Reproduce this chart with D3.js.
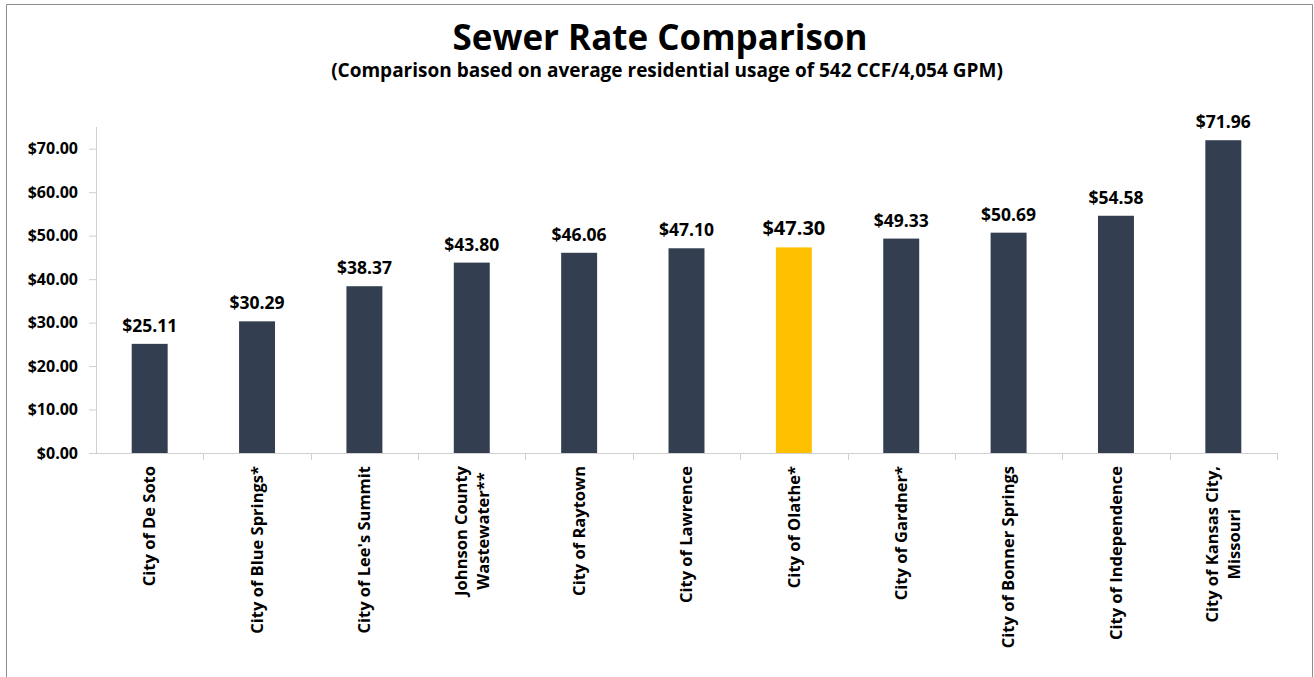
<!DOCTYPE html>
<html>
<head>
<meta charset="utf-8">
<script src="https://cdn.jsdelivr.net/npm/d3@7"></script>
<style>
  body { margin: 0; background: #fff; }
  svg { display: block; font-family: "Open Sans", sans-serif; }
</style>
</head>
<body>
<svg class="plot"></svg>
<script>
const width = 1314, height = 677;
const margin = {top: 127, right: 37, bottom: 224, left: 96};

// data
const cities = [
  "City of De Soto", "City of Blue Springs*", "City of Lee's Summit",
  "Johnson County\nWastewater**", "City of Raytown", "City of Lawrence",
  "City of Olathe*", "City of Gardner*", "City of Bonner Springs",
  "City of Independence", "City of Kansas City,\nMissouri"
];
const rates = [25.11, 30.29, 38.37, 43.80, 46.06, 47.10, 47.30, 49.33, 50.69, 54.58, 71.96];
const highlight = "City of Olathe*";
const yTicks = [0, 10, 20, 30, 40, 50, 60, 70];

const svg = d3.select(".plot")
  .attr("width", width)
  .attr("height", height);

// outer frame
svg.append("path")
   .attr("d", "M6.5," + height + "V4.5H1312.5V" + height)
   .attr("fill", "none")
   .attr("stroke", "#8c8c8c")
   .attr("stroke-width", 1);

// titles
svg.append("text")
   .attr("x", 660)
   .attr("y", 50)
   .attr("text-anchor", "middle")
   .style("font-size", "35px")
   .style("font-weight", "bold")
   .text("Sewer Rate Comparison");

svg.append("text")
   .attr("x", 667)
   .attr("y", 77)
   .attr("text-anchor", "middle")
   .style("font-size", "19px")
   .style("font-weight", "bold")
   .text("(Comparison based on average residential usage of 542 CCF/4,054 GPM)");

const chart = svg.append("g")
  .attr("transform", "translate(" + margin.left + "," + margin.top + ")");

const innerW = width - margin.left - margin.right;
const innerH = height - margin.top - margin.bottom;

let x = d3.scaleBand()
          .domain(cities)
          .range([0, innerW])
          .paddingInner(0.665)
          .paddingOuter(0.3325);

let y = d3.scaleLinear()
          .domain([0, 75])
          .range([innerH, 0]);

// y axis
let yAxis = d3.axisLeft(y)
              .tickValues(yTicks)
              .tickSize(7)
              .tickPadding(11)
              .tickFormat(d => "$" + d3.format(".2f")(d));

let gy = chart.append("g")
              .attr("class", "y-axis")
              .call(yAxis);
gy.attr("font-family", null).attr("font-size", null);
gy.select(".domain").attr("stroke", "#d0d0d0").attr("d", "M0.5,0V" + innerH);
gy.selectAll(".tick line").attr("stroke", "#d0d0d0");
gy.selectAll(".tick text")
  .style("font-size", "16px")
  .style("font-weight", "bold")
  .attr("fill", "#000");

// x axis (category boundaries)
let band = innerW / cities.length;
let gx = chart.append("g")
              .attr("transform", "translate(0," + innerH + ")");
gx.append("line")
  .attr("x1", 0).attr("x2", innerW)
  .attr("y1", 0.5).attr("y2", 0.5)
  .attr("stroke", "#d0d0d0");
gx.selectAll(".sep")
  .data(d3.range(1, cities.length + 1))
  .enter().append("line")
  .attr("class", "sep")
  .attr("x1", d => Math.round(d * band) + 0.5)
  .attr("x2", d => Math.round(d * band) + 0.5)
  .attr("y1", 0).attr("y2", 7)
  .attr("stroke", "#d0d0d0");

// category labels, rotated; multi-line labels are centred on each other
gx.selectAll(".cat")
  .data(cities)
  .enter().append("text")
  .attr("class", "cat")
  .attr("transform", d => "translate(" + (x(d) + x.bandwidth() / 2) + ",13) rotate(-90)")
  .attr("text-anchor", "end")
  .style("font-size", "16.5px")
  .style("font-weight", "bold")
  .each(function(d) {
    let lines = d.split("\n");
    let t = d3.select(this);
    let spans = lines.map((l, i) =>
      t.append("tspan")
       .attr("x", 0)
       .attr("y", (i - (lines.length - 1) / 2) * 22)
       .attr("dy", "0.35em")
       .text(l));
    let widths = spans.map(s => s.node().getComputedTextLength());
    let maxW = d3.max(widths);
    spans.forEach((s, i) => s.attr("x", -(maxW - widths[i]) / 2));
  });

// bars
chart.selectAll(".bar")
     .data(cities)
     .enter().append("rect")
     .attr("class", "bar")
     .attr("x", d => x(d))
     .attr("y", (d, i) => y(rates[i]))
     .attr("width", x.bandwidth())
     .attr("height", (d, i) => innerH - y(rates[i]))
     .attr("fill", d => d === highlight ? "#ffc000" : "#333f50");

// value labels
chart.selectAll(".val")
     .data(cities)
     .enter().append("text")
     .attr("class", "val")
     .attr("x", d => x(d) + x.bandwidth() / 2)
     .attr("y", (d, i) => y(rates[i]) - 12)
     .attr("text-anchor", "middle")
     .style("font-size", d => d === highlight ? "20px" : "17.5px")
     .style("font-weight", "bold")
     .text((d, i) => "$" + d3.format(".2f")(rates[i]));
</script>
</body>
</html>
